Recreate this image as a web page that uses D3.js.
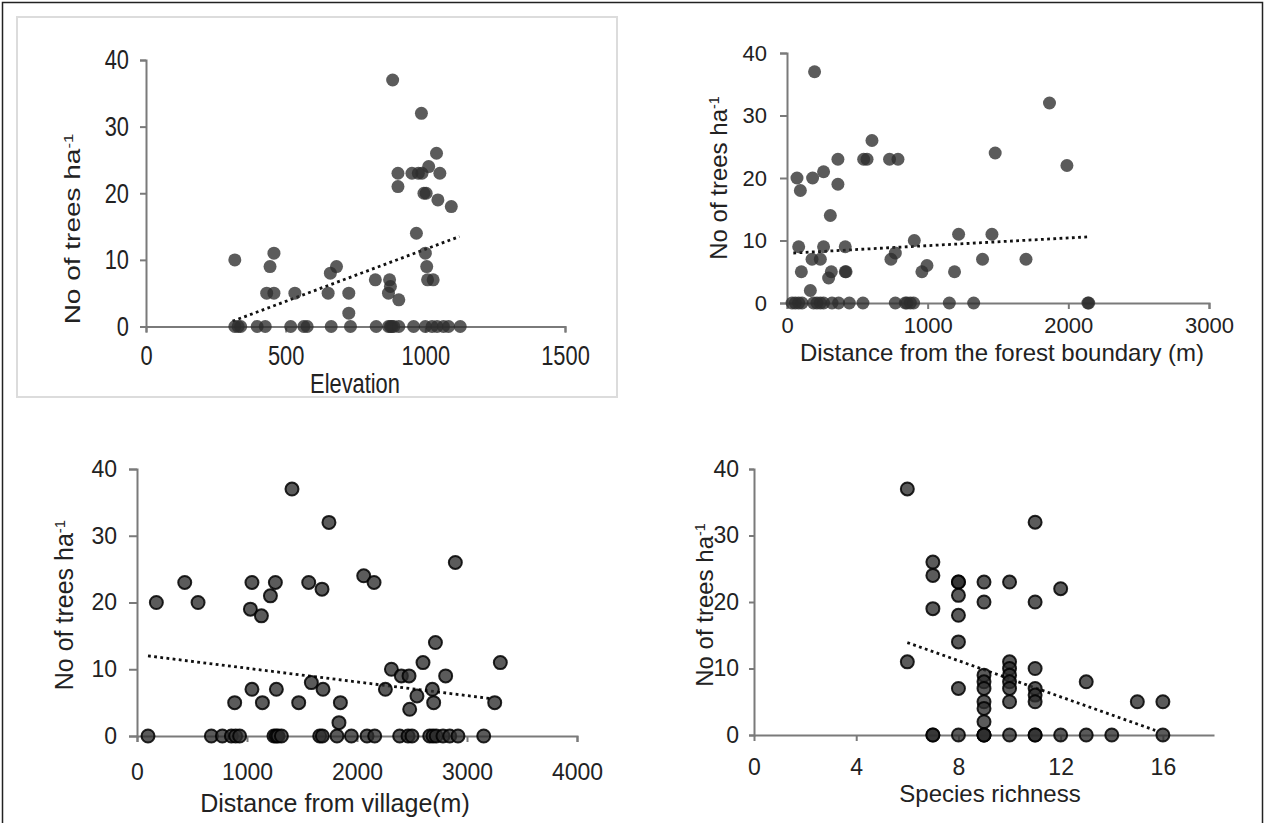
<!DOCTYPE html>
<html>
<head>
<meta charset="utf-8">
<script src="https://cdn.jsdelivr.net/npm/d3@7"></script>
<style>
  body { margin: 0; background: #fff; }
  svg { display: block; }
  text { font-family: "Liberation Sans", Arial, sans-serif; fill: #222; }
</style>
</head>
<body>
<svg id="chart" width="1265" height="823"></svg>
<script>
// ---- data: number of trees per hectare against four site variables ----
const treeTicks = [0, 10, 20, 30, 40];

const elevationTicks = [0, 500, 1000, 1500];
const elevationPts = [
  [883, 37], [986, 32], [1040, 26], [902, 23], [952, 23], [975, 23], [988, 23], [1012, 24],
  [1052, 23], [902, 21], [995, 20], [1003, 20], [1045, 19], [1093, 18], [968, 14], [1000, 11],
  [1005, 9], [1008, 7], [1028, 7], [318, 10], [458, 11], [444, 9], [432, 5], [458, 5], [533, 5],
  [682, 9], [660, 8], [652, 5], [726, 5], [726, 2], [821, 7], [872, 7], [875, 6], [868, 5], [905, 4],
  [318, 0], [330, 0], [339, 0], [398, 0], [427, 0], [518, 0], [565, 0], [577, 0], [663, 0], [732, 0],
  [824, 0], [868, 0], [875, 0], [880, 0], [887, 0], [905, 0], [958, 0], [1000, 0], [1024, 0],
  [1042, 0], [1065, 0], [1083, 0], [1125, 0]
];
const elevationTrend = [[310, 0.8], [1122, 13.5]];

const boundaryTicks = [0, 1000, 2000, 3000];
const boundaryPts = [
  [196, 37], [604, 26], [545, 23], [569, 23], [729, 23], [789, 23], [362, 23], [1480, 24],
  [71, 20], [182, 20], [260, 21], [95, 18], [362, 19], [308, 14], [83, 9], [260, 9], [414, 9],
  [905, 10], [1220, 11], [1457, 11], [178, 7], [237, 7], [739, 7], [770, 8], [1390, 7], [1699, 7],
  [102, 5], [315, 5], [296, 4], [414, 5], [420, 5], [959, 5], [995, 6], [1191, 5], [166, 2],
  [1866, 32], [1990, 22],
  [36, 0], [59, 0], [83, 0], [107, 0], [189, 0], [213, 0], [237, 0], [260, 0], [320, 0], [367, 0],
  [443, 0], [540, 0], [770, 0], [841, 0], [853, 0], [877, 0], [900, 0], [1154, 0], [1327, 0],
  [2139, 0], [2145, 0]
];
const boundaryTrend = [[45, 8.0], [2155, 10.6]];

const villageTicks = [0, 1000, 2000, 3000, 4000];
const villagePts = [
  [1409, 37], [1745, 32], [176, 20], [434, 23], [555, 20], [1045, 23], [1258, 23], [1213, 21],
  [1031, 19], [1131, 18], [1561, 23], [1682, 22], [2061, 24], [2155, 23], [2894, 26], [2713, 14],
  [2600, 11], [3303, 11], [2313, 10], [2403, 9], [2473, 9], [2806, 9], [2258, 7], [2685, 7],
  [2545, 6], [2697, 5], [3252, 5], [2479, 4], [1045, 7], [1267, 7], [888, 5], [1140, 5], [1470, 5],
  [1585, 8], [1691, 7], [1849, 5], [1836, 2],
  [100, 0], [676, 0], [776, 0], [858, 0], [897, 0], [933, 0], [1245, 0], [1265, 0], [1282, 0],
  [1313, 0], [1661, 0], [1685, 0], [1818, 0], [1949, 0], [2091, 0], [2161, 0], [2388, 0],
  [2464, 0], [2500, 0], [2661, 0], [2691, 0], [2720, 0], [2782, 0], [2843, 0], [2918, 0], [3152, 0]
];
const villageTrend = [[100, 12.0], [3220, 5.6]];

const richnessTicks = [0, 4, 8, 12, 16];
const richnessPts = [
  [6, 37], [11, 32], [7, 26], [7, 24], [8, 23], [8, 23], [8, 21], [8, 18], [8, 14], [7, 19],
  [9, 23], [9, 20], [10, 23], [11, 20], [12, 22], [6, 11], [8, 7], [9, 9], [9, 8], [9, 7], [9, 5],
  [9, 4], [9, 2], [10, 11], [10, 10], [10, 9], [10, 8], [10, 7], [10, 5], [11, 10], [11, 7],
  [11, 6], [11, 5], [13, 8], [15, 5], [16, 5],
  [7, 0], [7, 0], [8, 0], [9, 0], [9, 0], [9, 0], [10, 0], [11, 0], [11, 0], [12, 0], [13, 0],
  [14, 0], [16, 0]
];
const richnessTrend = [[6, 13.9], [15.7, 0.7]];

// ---- layout of the four panels ----
const panels = [
  { pts: elevationPts, trend: elevationTrend, xTicks: elevationTicks, xDomain: [0, 1500],
    xRange: [146, 565], yRange: [326.5, 60], xTitle: "Elevation", yTitleSpace: "",
    font: 28, titleFont: 28, squeeze: 0.78, tickX: 6, padX: 13, tickY: 6, padY: 11, outerX: 6,
    xTitlePos: [355, 383], yTitlePos: [72, 229], outlined: false },
  { pts: boundaryPts, trend: boundaryTrend, xTicks: boundaryTicks, xDomain: [0, 3000],
    xRange: [787, 1209], yRange: [303, 53], xTitle: "Distance from the forest boundary (m)",
    yTitleSpace: "", font: 22, titleFont: 24, squeeze: 1, tickX: 6, padX: 8, tickY: 7, padY: 13, outerX: 6,
    xTitlePos: [1002, 352], yTitlePos: [718, 178], outlined: false },
  { pts: villagePts, trend: villageTrend, xTicks: villageTicks, xDomain: [0, 4000],
    xRange: [137, 577], yRange: [736, 469], xTitle: "Distance from village(m)", yTitleSpace: "",
    font: 23, titleFont: 25, squeeze: 1, tickX: 6, padX: 22, tickY: 8, padY: 12, outerX: 6,
    xTitlePos: [335, 803], yTitlePos: [64, 605], outlined: true },
  { pts: richnessPts, trend: richnessTrend, xTicks: richnessTicks, xDomain: [0, 18],
    xRange: [754, 1214], yRange: [735, 469], xTitle: "Species richness", yTitleSpace: " ",
    font: 23, titleFont: 24, squeeze: 1, tickX: 6, padX: 18, tickY: 5, padY: 10, outerX: 0,
    xTitlePos: [990, 793], yTitlePos: [704, 605], outlined: true }
];

const svg = d3.select("#chart");

// outer frame of the figure and the light box round the first panel
svg.append("rect").attr("x", 2.5).attr("y", 2.5).attr("width", 1260).attr("height", 830)
  .attr("fill", "none").attr("stroke", "#222").attr("stroke-width", 1.5);
svg.append("rect").attr("x", 17).attr("y", 17).attr("width", 600).attr("height", 380)
  .attr("fill", "none").attr("stroke", "#dcdcdc").attr("stroke-width", 2);

panels.forEach(p => {
  const x = d3.scaleLinear().domain(p.xDomain).range(p.xRange);
  const y = d3.scaleLinear().domain([0, 40]).range(p.yRange);
  const g = svg.append("g");

  const xAxis = g.append("g").attr("transform", `translate(0,${y(0)})`)
    .call(d3.axisBottom(x).tickValues(p.xTicks).tickSize(p.tickX).tickSizeOuter(p.outerX)
      .tickPadding(p.padX).tickFormat(d3.format("d")));
  const yAxis = g.append("g").attr("transform", `translate(${x(0)},0)`)
    .call(d3.axisLeft(y).tickValues(treeTicks).tickSize(p.tickY).tickSizeOuter(p.tickY)
      .tickPadding(p.padY).tickFormat(d3.format("d")));

  [xAxis, yAxis].forEach(a => {
    a.select(".domain").attr("stroke", "#7a7a7a").attr("stroke-width", 2);
    a.selectAll(".tick line").attr("stroke", "#7a7a7a").attr("stroke-width", 2);
    a.selectAll(".tick text").attr("font-size", p.font).attr("fill", "#222")
      .style("font-family", "'Liberation Sans', Arial, sans-serif");
  });
  if (p.squeeze !== 1) {
    // narrow lettering in the first panel
    xAxis.selectAll(".tick text").each(function () {
      const t = d3.select(this);
      const ty = +t.attr("y");
      t.attr("y", null).attr("transform", `translate(0,${ty}) scale(${p.squeeze},1)`);
    });
    yAxis.selectAll(".tick text").each(function () {
      const t = d3.select(this);
      const tx = +t.attr("x");
      t.attr("x", null).attr("transform", `translate(${tx},0) scale(${p.squeeze},1)`);
    });
  }

  // dotted linear trend line
  g.append("path")
    .datum(p.trend)
    .attr("d", d3.line().x(d => x(d[0])).y(d => y(d[1])))
    .attr("fill", "none").attr("stroke", "#111").attr("stroke-width", 2.8)
    .attr("stroke-dasharray", "2.8 3.4");

  // plots
  g.append("g").selectAll("circle").data(p.pts).join("circle")
    .attr("cx", d => x(d[0])).attr("cy", d => y(d[1]))
    .attr("r", 6.5)
    .attr("fill", "rgb(45,45,45)").attr("fill-opacity", 0.78)
    .attr("stroke", p.outlined ? "#000" : "none")
    .attr("stroke-opacity", 0.85).attr("stroke-width", 2);

  // axis titles
  const fsTitle = p.titleFont;
  g.append("text")
    .attr("transform", `translate(${p.xTitlePos[0]},${p.xTitlePos[1] + fsTitle * 0.36}) scale(${p.squeeze},1)`)
    .attr("text-anchor", "middle").attr("font-size", fsTitle)
    .text(p.xTitle);

  const yt = g.append("text")
    .attr("transform", `translate(${p.yTitlePos[0] + fsTitle * 0.36 * p.squeeze},${p.yTitlePos[1]}) scale(${p.squeeze},1) rotate(-90)`)
    .attr("text-anchor", "middle").attr("font-size", fsTitle);
  yt.append("tspan").text("No of trees " + p.yTitleSpace + "ha");
  yt.append("tspan").attr("baseline-shift", "super").attr("font-size", fsTitle * 0.6).text("-1");
});
</script>
</body>
</html>
